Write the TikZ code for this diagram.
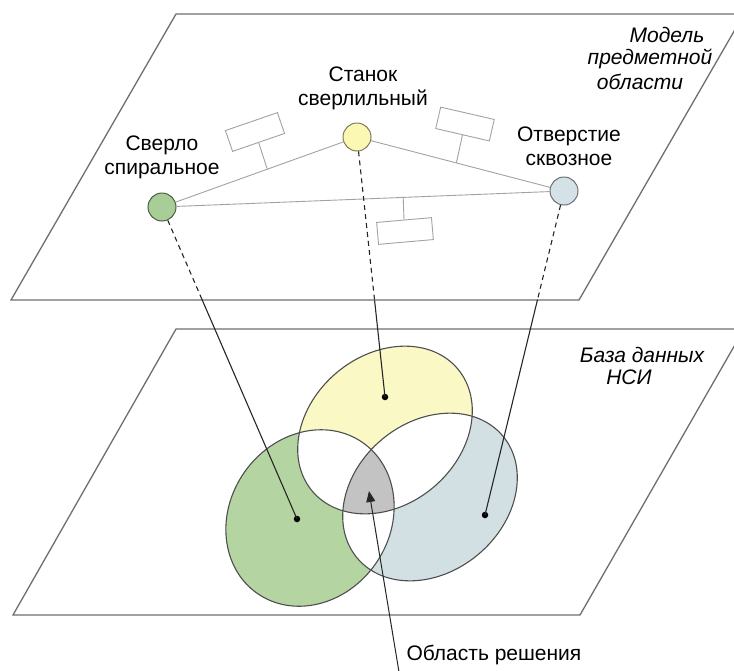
\documentclass[tikz,border=0pt]{standalone}
\usepackage{fontspec}
\setmainfont{Liberation Sans}
\usetikzlibrary{calc,arrows.meta}

\definecolor{planecol}{HTML}{6E6E6E}
\definecolor{relcol}{HTML}{A2A2A2}
\definecolor{setgreen}{HTML}{B4D4A2}
\definecolor{setyellow}{HTML}{FAF8C4}
\definecolor{setblue}{HTML}{D2E0E4}
\definecolor{setgray}{HTML}{C3C3C3}
\definecolor{entgreen}{HTML}{A8CE97}
\definecolor{entyellow}{HTML}{FBF8B4}
\definecolor{entblue}{HTML}{D4E1E6}
\definecolor{setline}{HTML}{4E4E4E}

% the three sets of the reference database
\newcommand\setG{(310,518) ellipse [x radius=92pt, y radius=80pt, rotate=55]}
\newcommand\setY{(385,430) ellipse [x radius=95pt, y radius=75pt, rotate=40]}
\newcommand\setB{(430,497) ellipse [x radius=95pt, y radius=75pt, rotate=40]}

\begin{document}
\begin{tikzpicture}[x=1pt,y=-1pt,
  plane/.style={draw=planecol, line width=1.3pt},
  ent/.style={circle, draw, line width=1pt, minimum size=28pt, inner sep=0pt},
  rel/.style={draw=relcol, line width=0.9pt},
  attr/.style={rectangle, draw=relcol, line width=0.9pt, fill=white,
    minimum width=55pt, minimum height=22pt, inner sep=0pt},
  lbl/.style={align=center, font=\fontsize{21}{24}\selectfont},
  ilbl/.style={font=\fontsize{21}{24}\selectfont\itshape},
  hidden/.style={draw=black!85, line width=1.1pt, dash pattern=on 5pt off 4pt},
  link/.style={draw=black!85, line width=1.1pt},
  dot/.style={circle, fill=black, inner sep=0pt, minimum size=6.5pt},
  setedge/.style={draw=setline, line width=1.1pt}]
\useasboundingbox (0,0) rectangle (734,670);
\clip (0,0) rectangle (734,670);

% ---------- upper plane: subject-domain model ----------
\draw[plane] (176,14) -- (744,14) -- (579,300) -- (11,300) -- cycle;
\node[ilbl] (m1) at (667,35) {Модель};
\node[ilbl] (m2) at (650,59) {предметной};
\node[ilbl] (m3) at (640,82) {области};

\node[ent, fill=entgreen,  draw=black!55!entgreen]  (cG) at (162,207) {};
\node[ent, fill=entyellow, draw=black!50!entyellow] (cY) at (357,137) {};
\node[ent, fill=entblue,   draw=black!50!entblue]   (cB) at (564,191) {};

\node[lbl] (tG) at (162,157) {Сверло\\спиральное};
\node[lbl] (tY) at (363,88) {Станок\\сверлильный};
\node[lbl] (tB) at (569,146) {Отверстие\\сквозное};

\draw[rel] (cG) -- (cY);
\draw[rel] (cY) -- (cB);
\draw[rel] (cG) -- (cB);

\coordinate (r1) at ($(cG)!0.54!(cY)$);
\coordinate (r2) at ($(cY)!0.48!(cB)$);
\coordinate (r3) at ($(cG)!0.60!(cB)$);
\node[attr, rotate=19]  (a1) at (255,132) {};
\node[attr, rotate=-13] (a2) at (465,124) {};
\node[attr, rotate=5]   (a3) at (405,231) {};
\draw[rel] (a1.south) -- (r1);
\draw[rel] (a2.south) -- (r2);
\draw[rel] (a3.north) -- (r3);

% ---------- lower plane: reference database ----------
\draw[plane] (176,329) -- (744,329) -- (580,615) -- (13,615) -- cycle;
\node[ilbl] (n1) at (642,355) {База данных};
\node[ilbl] (n2) at (629,377) {НСИ};

% single-set parts
\fill[setgreen] \setG;
\fill[setyellow] \setY;
\fill[setblue] \setB;
% pairwise overlaps are left white
\begin{scope} \clip \setG; \fill[white] \setY; \end{scope}
\begin{scope} \clip \setG; \fill[white] \setB; \end{scope}
\begin{scope} \clip \setY; \fill[white] \setB; \end{scope}
% common part of all three sets
\begin{scope} \clip \setG; \clip \setY; \fill[setgray] \setB; \end{scope}
\draw[setedge] \setG;
\draw[setedge] \setY;
\draw[setedge] \setB;

\node[dot] (dG) at (297,519) {};
\node[dot] (dY) at (385,397) {};
\node[dot] (dB) at (485,515) {};

% mapping of entities onto sets: hidden under the upper plane, then visible
\coordinate (eG) at ($(cG)!0.2913!(dG)$);
\coordinate (eY) at ($(cY)!0.6284!(dY)$);
\coordinate (eB) at ($(cB)!0.3354!(dB)$);
\draw[hidden] (cG) -- (eG);
\draw[hidden] (cY) -- (eY);
\draw[hidden] (cB) -- (eB);
\draw[link] (eG) -- (dG.center);
\draw[link] (eY) -- (dY.center);
\draw[link] (eB) -- (dB.center);

% solution area
\node[lbl, anchor=west] (sol) at (403,655) {Область решения};
\coordinate (solfoot) at (399,672);
\coordinate (soltip) at (369,491);
\draw[link, line width=1pt, -{Triangle[length=11pt,width=9pt]}] (solfoot) -- (soltip);
\end{tikzpicture}
\end{document}
